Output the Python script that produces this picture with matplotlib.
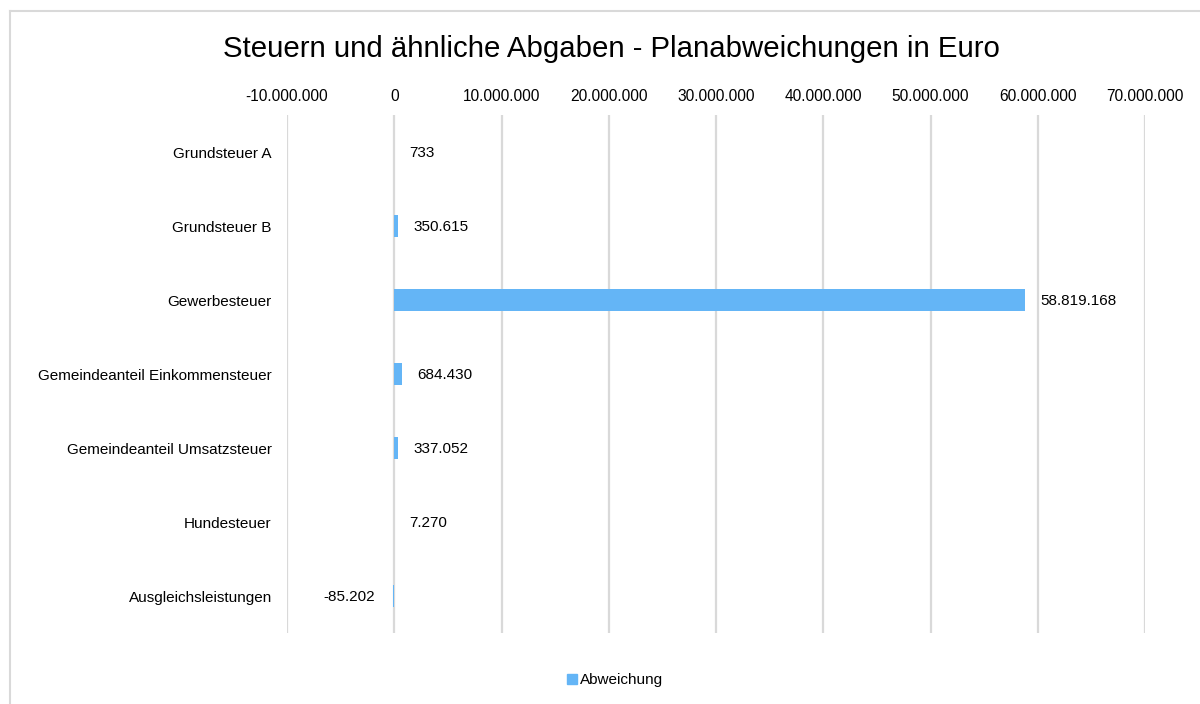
import matplotlib
matplotlib.use('Agg')
from matplotlib import pyplot as plt
from matplotlib.lines import Line2D

plt.rcParams['font.family'] = ['Liberation Sans', 'DejaVu Sans']

categories = ['Grundsteuer A', 'Grundsteuer B', 'Gewerbesteuer',
              'Gemeindeanteil Einkommensteuer', 'Gemeindeanteil Umsatzsteuer',
              'Hundesteuer', 'Ausgleichsleistungen']
values = [733, 350615, 58819168, 684430, 337052, 7270, -85202]
ticks = [-10000000, 0, 10000000, 20000000, 30000000, 40000000, 50000000,
         60000000, 70000000]

bar_color = '#64B5F6'
grid_color = '#D9D9D9'


def fmt_de(v):
    s = '{:,}'.format(int(v)).replace(',', '.')
    return s


fig = plt.figure(figsize=(12, 7.04), dpi=100)
ax = fig.add_axes([287 / 1200, 1 - 633 / 704, (1145 - 287) / 1200, (633 - 115) / 704])

ypos = list(range(len(categories)))
ax.barh(ypos, values, height=0.31, color=bar_color, zorder=3)
ax.set_ylim(len(categories) - 0.5, -0.5)
ax.set_yticks(ypos)
ax.set_yticklabels(categories, fontsize=11)

ax.set_xlim(ticks[0], ticks[-1])
ax.set_xticks(ticks)
ax.set_xticklabels([fmt_de(t) for t in ticks], fontsize=11.2)
ax.xaxis.tick_top()
ax.tick_params(axis='both', length=0)
ax.tick_params(axis='y', pad=11)
ax.tick_params(axis='x', pad=8)
ax.grid(axis='x', color=grid_color, linewidth=1.6, zorder=0)
for sp in ax.spines.values():
    sp.set_visible(False)

for y, v in zip(ypos, values):
    if v >= 0:
        ax.annotate(fmt_de(v), (v, y), xytext=(11, -1), textcoords='offset points',
                    ha='left', va='center', fontsize=11)
    else:
        ax.annotate(fmt_de(v), (v, y), xytext=(-13, -1), textcoords='offset points',
                    ha='right', va='center', fontsize=11)

fig.text(611 / 1200, 1 - 49 / 704, 'Steuern und ähnliche Abgaben - Planabweichungen in Euro',
         ha='center', va='center', fontsize=21.2)

handle = Line2D([], [], marker='s', linestyle='none', markersize=7,
                markerfacecolor=bar_color, markeredgecolor=bar_color)
fig.legend([handle], ['Abweichung'], loc='center', bbox_to_anchor=(614 / 1200, 1 - 680 / 704),
           frameon=False, fontsize=11, handletextpad=0.0, handlelength=1.0)

# outer frame (left and top edges only visible)
fig.add_artist(Line2D([10 / 1200, 10 / 1200], [0, 1 - 11 / 704], transform=fig.transFigure,
                      color=grid_color, linewidth=1.5))
fig.add_artist(Line2D([10 / 1200, 1], [1 - 11 / 704, 1 - 11 / 704], transform=fig.transFigure,
                      color=grid_color, linewidth=1.5))

fig.savefig('out.png', dpi=100, facecolor='white')
